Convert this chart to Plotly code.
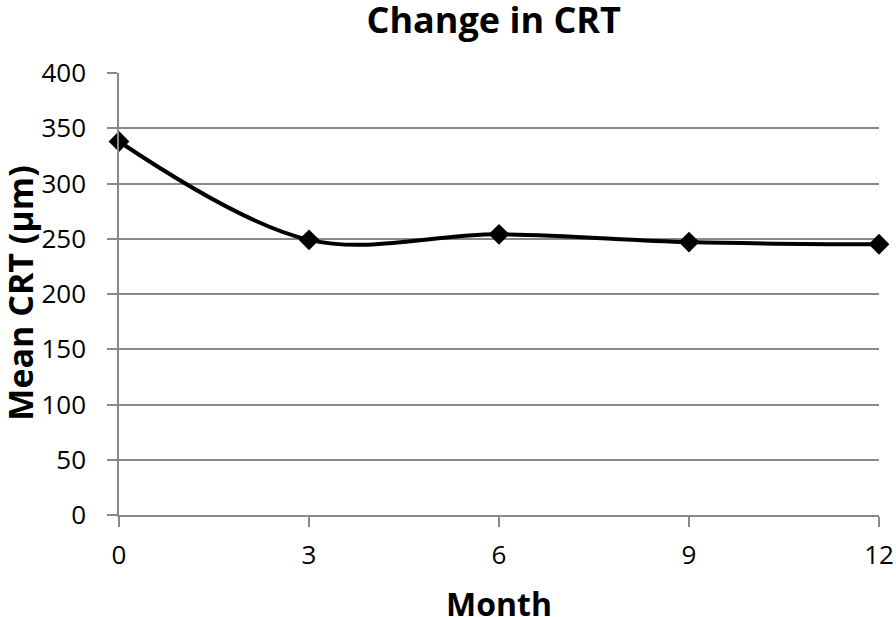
import plotly.graph_objects as go

months = [0, 3, 6, 9, 12]
mean_crt = [338, 249, 254, 247, 245]
x_ticks = [0, 3, 6, 9, 12]
y_ticks = [0, 50, 100, 150, 200, 250, 300, 350, 400]

font_family = "Open Sans"
grid_col = "#898989"

fig = go.Figure()
fig.add_trace(go.Scatter(
    x=months, y=mean_crt, mode="lines+markers",
    line=dict(color="black", width=4, shape="spline", smoothing=1),
    marker=dict(symbol="diamond", size=16, color="black"),
    showlegend=False, cliponaxis=False,
))

fig.update_layout(
    width=896, height=617,
    margin=dict(l=119, r=17, t=73, b=102, autoexpand=False),
    paper_bgcolor="white", plot_bgcolor="white",
    title=dict(text="<b>Change in CRT</b>", x=0.551, xanchor="center",
               xref="container", yref="container", y=0.967, yanchor="middle",
               font=dict(family=font_family, size=36, color="black")),
    font=dict(family=font_family, color="black"),
)
fig.update_xaxes(
    range=[0, 12], tickvals=x_ticks, ticktext=[str(v) for v in x_ticks],
    showgrid=False, zeroline=False, automargin=False,
    showline=True, linecolor=grid_col, linewidth=1.5,
    ticks="outside", ticklen=10, tickcolor=grid_col, tickwidth=1.5,
    ticklabelstandoff=6,
    tickfont=dict(size=26, family=font_family, color="black"),
)
fig.update_yaxes(
    range=[0, 400], tickvals=y_ticks, ticktext=[str(v) for v in y_ticks],
    showgrid=True, gridcolor=grid_col, gridwidth=1.5, zeroline=False, automargin=False,
    showline=True, linecolor=grid_col, linewidth=1.5,
    ticks="outside", ticklen=10, tickcolor=grid_col, tickwidth=1.5,
    ticklabelstandoff=16,
    tickfont=dict(size=26, family=font_family, color="black"),
)

# axis titles as annotations for precise placement
fig.add_annotation(text="<b>Month</b>", xref="paper", yref="paper", x=0.5, y=-0.201,
                   xanchor="center", yanchor="middle", showarrow=False,
                   font=dict(size=32, family=font_family, color="black"))
fig.add_annotation(text="<b>Mean CRT (μm)</b>", xref="paper", yref="paper", x=-0.1303, y=0.503,
                   xanchor="center", yanchor="middle", showarrow=False, textangle=-90,
                   font=dict(size=34, family=font_family, color="black"))

fig.write_html("out.html", config={"displayModeBar": False},
               post_script="document.body.style.margin='0';document.body.style.overflow='hidden';")
